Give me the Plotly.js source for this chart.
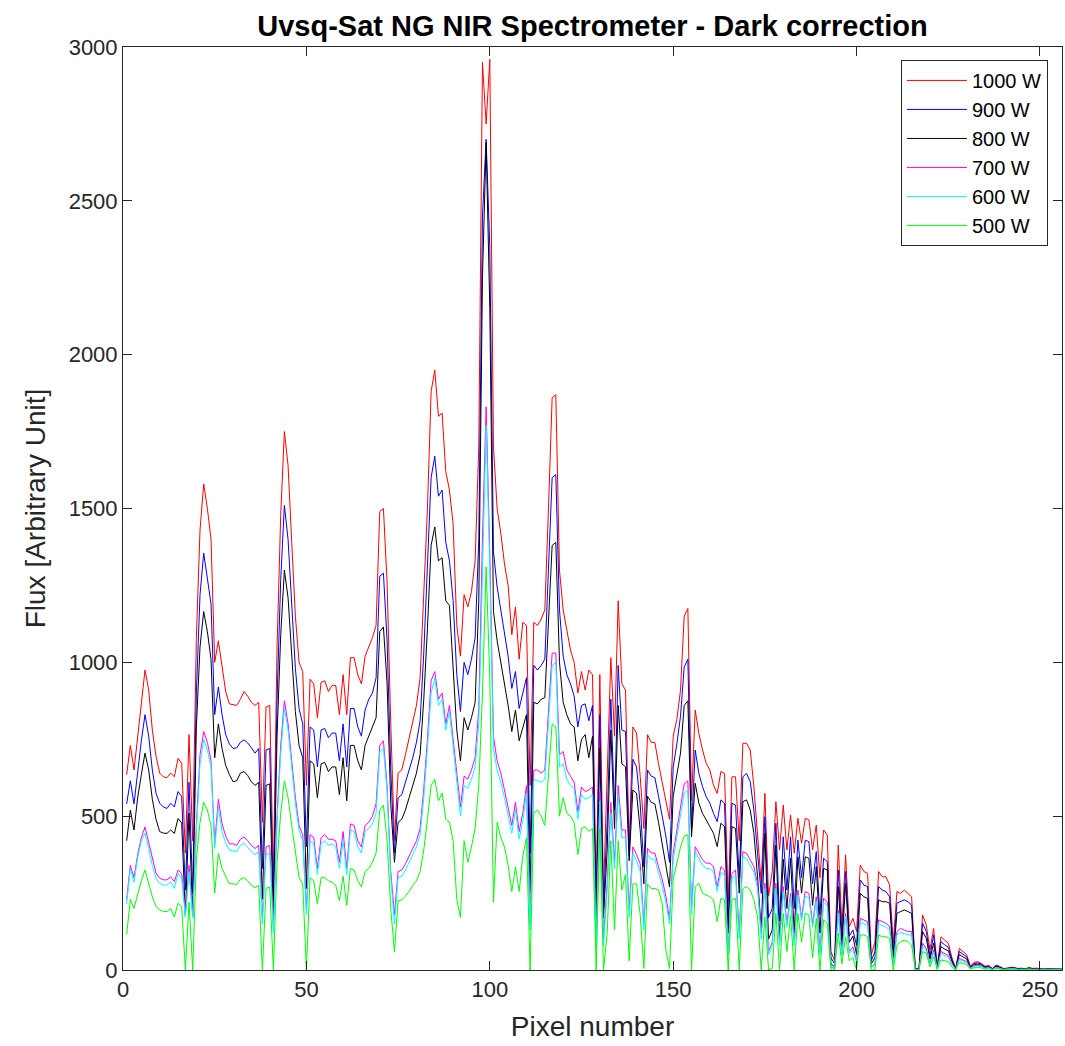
<!DOCTYPE html>
<html>
<head>
<meta charset="utf-8">
<script src="https://cdn.plot.ly/plotly-3.0.1.min.js"></script>
<style>html,body{margin:0;padding:0;background:#fff;}#chart{width:1065px;height:1046px;}</style>
</head>
<body>
<div id="chart"></div>
<script>
const seriesNames = ["1000 W","900 W","800 W","700 W","600 W","500 W"];
const seriesColors = ["#ff0000","#0000ff","#000000","#ff00ff","#00ffff","#00ff00"];

const w1000 = [635,730,650,750,865,975,910,780,695,640,
628,625,640,628,688,672,380,765,420,1080,
1430,1580,1500,1400,1000,1070,980,905,865,862,
860,880,905,890,870,860,870,480,855,860,
300,1050,1480,1750,1640,1390,1150,1000,970,600,
945,930,820,935,940,905,925,925,830,960,
830,1015,1015,960,930,1020,1050,1080,1120,1490,
1500,1260,800,420,640,650,700,750,800,860,
950,1200,1500,1880,1950,1800,1810,1620,1560,1450,
1120,1020,1220,1180,1230,1330,1700,2950,2750,2960,
1700,1500,1420,1320,1250,1090,1180,1010,1130,1120,
600,1130,1120,1140,1170,1500,1860,1870,1300,1170,
1100,1040,1000,900,970,910,975,960,250,960,
250,620,1015,760,1200,930,910,400,790,770,
630,460,765,740,740,670,610,540,490,760,
815,910,1150,1175,550,845,769,715,672,650,
600,574,645,639,220,628,628,420,737,737,
715,596,444,282,574,240,320,547,390,536,
390,504,380,493,412,493,488,390,471,300,
455,439,60,30,406,141,374,141,168,125,
341,320,314,49,90,320,303,303,276,87,
255,249,260,249,238,5,5,179,146,65,
135,10,108,97,87,40,5,70,60,50,
12,25,27,22,12,15,5,16,12,5,
6,9,8,5,6,4,8,5,6,4,
3,5,4,3,4,3];

const w900 = [540,615,540,645,745,830,760,650,575,542,
530,525,542,530,580,563,260,610,250,900,
1220,1355,1280,1190,830,920,830,765,735,720,
722,740,748,738,722,705,720,330,715,720,
230,880,1270,1510,1400,1190,980,850,800,400,
790,780,660,780,785,755,770,770,680,800,
660,850,850,790,760,845,880,900,950,1280,
1290,1070,650,380,560,570,610,650,690,740,
810,1030,1290,1600,1670,1540,1560,1390,1330,1200,
960,840,1000,960,1010,1080,1400,2450,2700,2350,
1360,1245,1170,1090,1020,915,970,850,905,950,
380,990,975,990,1010,1300,1600,1610,1170,1020,
960,930,890,790,860,865,810,860,200,830,
200,480,880,520,990,780,775,370,685,660,
540,335,650,630,625,565,500,435,350,660,
735,825,985,1010,455,715,639,596,563,542,
509,482,553,542,150,542,536,300,628,639,
612,520,379,249,498,170,200,477,160,433,
260,433,200,422,300,422,417,280,385,180,
363,352,40,20,325,110,320,110,130,80,
293,276,271,30,60,271,260,255,238,60,
217,222,228,222,211,3,3,152,125,45,
114,8,92,82,74,34,4,60,51,43,
10,21,23,19,10,13,4,14,10,4,
5,8,7,4,5,3,7,4,5,3,
3,4,3,3,3,3];

const w800 = [420,520,455,560,635,705,650,555,490,450,
445,444,455,444,492,478,175,510,175,790,
1050,1165,1100,1010,690,800,720,665,635,612,
615,640,645,632,612,600,610,230,600,605,
180,760,1090,1300,1210,1020,840,730,690,265,
680,670,560,670,675,645,660,660,570,690,
550,730,730,680,650,730,760,790,820,1100,
1115,930,540,350,480,490,520,560,600,640,
700,880,1110,1380,1440,1330,1340,1200,1185,1000,
780,680,820,780,820,870,1200,2250,2690,2150,
1165,1070,1000,930,860,775,845,745,785,830,
250,870,865,880,885,1120,1380,1390,1000,870,
830,800,790,680,750,765,690,760,170,720,
170,390,780,460,860,670,660,355,585,575,
455,280,565,545,540,480,410,340,270,565,
630,705,860,875,433,607,542,509,488,466,
444,401,477,466,120,466,460,250,547,553,
520,444,303,130,444,100,130,406,100,360,
200,363,120,368,250,368,363,210,336,120,
330,325,20,10,271,80,282,90,110,50,
249,238,233,20,40,228,222,222,217,40,
184,190,195,190,184,2,2,125,103,35,
87,6,76,68,62,28,3,50,43,36,
8,17,19,16,8,10,3,12,8,3,
4,6,6,3,4,3,5,3,4,3,
2,3,3,2,3,2];

const w700 = [230,340,300,375,430,465,415,360,315,298,
293,293,303,287,325,314,185,340,180,470,
700,775,740,680,410,555,475,435,410,410,
405,425,432,420,405,395,405,170,400,405,
140,500,730,875,800,680,560,470,440,200,
440,430,330,430,440,425,425,420,350,450,
330,475,470,420,400,470,480,500,540,730,
745,600,320,180,320,325,345,370,395,420,
460,590,750,940,970,880,900,800,860,760,
640,530,630,620,650,690,850,1400,1830,1350,
760,680,640,585,530,470,545,450,510,600,
150,650,650,640,650,850,1030,1030,700,710,
650,630,610,515,595,580,585,595,100,580,
100,280,545,350,600,455,455,195,400,375,
345,150,395,380,380,335,295,240,165,380,
455,530,605,615,200,401,379,358,347,347,
336,271,336,325,60,314,325,120,385,379,
358,336,282,119,282,60,90,282,90,271,
150,249,90,260,170,255,249,150,238,60,
233,222,10,5,195,50,184,60,75,30,
168,163,157,10,20,163,157,152,141,20,
125,135,130,125,125,1,1,87,70,20,
65,4,60,53,47,20,2,38,33,27,
6,13,15,12,6,8,2,9,6,2,
3,5,4,2,3,2,4,2,3,2,
2,3,2,2,2,2];

const w600 = [215,330,285,365,420,445,395,340,298,282,
276,276,287,265,314,298,172,320,168,450,
670,750,715,660,395,530,450,412,390,388,
385,405,412,398,385,375,385,150,375,380,
120,480,705,850,780,660,540,455,420,180,
420,410,310,410,420,405,410,400,330,420,
310,455,450,400,380,450,460,475,510,710,
720,580,300,150,300,305,325,350,375,400,
440,560,720,900,950,860,880,780,840,730,
610,500,600,590,620,660,800,1330,1770,1300,
720,650,610,560,505,445,520,425,485,575,
130,620,615,610,620,820,990,1000,660,670,
620,600,590,490,570,555,560,570,80,550,
80,260,510,330,570,430,430,170,380,355,
320,130,375,360,360,315,275,220,150,360,
430,505,575,585,180,385,362,340,330,330,
318,255,318,308,50,297,308,100,368,362,
340,318,265,100,265,50,80,265,80,255,
140,235,80,245,160,240,235,140,225,50,
220,210,8,5,185,45,175,55,65,25,
155,150,145,8,15,150,145,140,130,18,
115,122,118,115,112,1,1,78,62,18,
58,3,54,47,42,18,2,34,29,24,
5,11,13,11,5,7,2,8,5,2,
3,4,4,2,3,2,3,2,3,2,
2,2,2,2,2,2];

const w500 = [115,230,200,245,290,325,278,238,207,195,
190,190,200,172,217,206,0,220,0,360,
480,545,520,470,250,380,330,305,280,280,
278,295,300,290,275,268,275,0,265,270,
0,350,510,615,560,470,380,300,280,0,
300,290,215,300,300,290,285,275,225,305,
210,330,325,290,270,320,330,350,380,520,
535,420,200,60,225,228,240,255,275,290,
320,390,490,600,620,550,575,490,480,420,
230,170,420,350,400,460,600,900,1310,950,
220,480,430,400,340,255,335,255,370,430,
0,510,520,500,470,640,800,790,500,560,
510,500,480,375,460,465,450,460,0,460,
0,120,420,130,420,260,310,30,280,280,
180,5,280,265,265,260,215,65,5,295,
345,400,435,440,0,271,282,249,244,238,
228,157,233,228,0,228,233,0,265,271,
260,228,173,0,173,0,5,184,0,184,
60,179,0,184,90,184,179,40,168,0,
163,152,0,0,119,20,108,30,40,0,
114,114,108,0,0,114,108,108,103,0,
81,92,97,92,81,0,0,60,54,10,
43,2,33,30,27,10,0,25,22,18,
3,7,8,7,3,4,1,5,3,1,
2,3,3,1,2,1,2,1,2,1,
1,2,1,1,1,1];

const pixels = w1000.map((_, i) => i + 1);
const xTicks = [0, 50, 100, 150, 200, 250];
const yTicks = [0, 500, 1000, 1500, 2000, 2500, 3000];

const allSeries = [w1000, w900, w800, w700, w600, w500];
const traces = allSeries.map((ys, k) => ({
  x: pixels, y: ys, type: 'scatter', mode: 'lines',
  name: seriesNames[k],
  line: {color: seriesColors[k], width: 1}
}));

const axisCommon = {
  showline: true, linecolor: '#262626', linewidth: 1, mirror: 'ticks',
  ticks: 'inside', ticklen: 9, tickwidth: 1, tickcolor: '#262626',
  showgrid: false, zeroline: false,
  tickfont: {size: 22, color: '#262626'}
};

const layout = {
  width: 1065, height: 1046,
  margin: {l: 123, r: 3, t: 47, b: 76},
  paper_bgcolor: '#ffffff', plot_bgcolor: '#ffffff',
  font: {family: 'Liberation Sans, Arial, Helvetica, sans-serif', color: '#262626'},
  title: {text: '<b>Uvsq-Sat NG NIR Spectrometer - Dark correction</b>',
          font: {size: 29, color: '#000000'}, x: 0.5, xref: 'paper',
          y: 0.975, yref: 'container', yanchor: 'middle'},
  xaxis: Object.assign({}, axisCommon, {
    range: [0, 256], tickvals: xTicks, ticktext: xTicks.map(String),
    title: {text: 'Pixel number', font: {size: 28, color: '#262626'}, standoff: 14}
  }),
  yaxis: Object.assign({}, axisCommon, {
    range: [0, 3000], tickvals: yTicks, ticktext: yTicks.map(String),
    title: {text: 'Flux [Arbitrary Unit]', font: {size: 28, color: '#262626'}, standoff: 14}
  }),
  legend: {x: 0.985, y: 0.986, xanchor: 'right', yanchor: 'top',
           bgcolor: '#ffffff', bordercolor: '#262626', borderwidth: 1,
           itemwidth: 60,
           font: {size: 20, color: '#000000'}},
  showlegend: true
};

Plotly.newPlot('chart', traces, layout, {displayModeBar: false, staticPlot: true});
</script>
</body>
</html>
